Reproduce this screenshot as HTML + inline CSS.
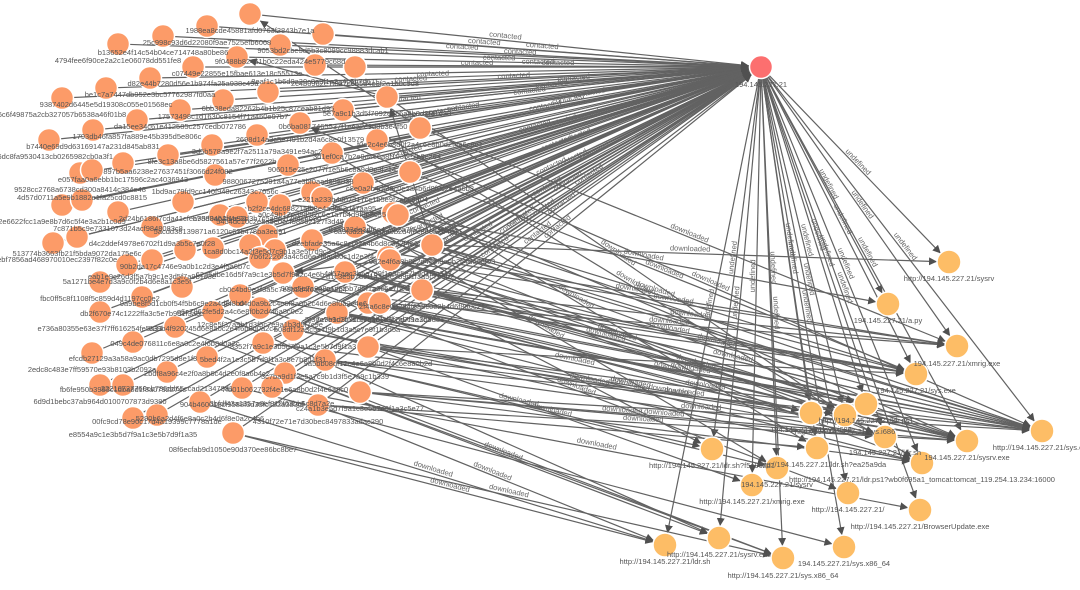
<!DOCTYPE html>
<html><head><meta charset="utf-8"><style>
html,body{margin:0;padding:0;background:#fff;width:1080px;height:590px;overflow:hidden}
svg{display:block;font-family:"Liberation Sans",sans-serif}
</style></head><body>
<svg width="1080" height="590" viewBox="0 0 1080 590" xmlns="http://www.w3.org/2000/svg">
<defs>
<marker id="a" viewBox="0 -5 10 10" refX="25" refY="0" markerWidth="8" markerHeight="8" markerUnits="userSpaceOnUse" orient="auto"><path d="M0,-5L10,0L0,5Z" fill="#505050"/></marker>
</defs>
<rect width="1080" height="590" fill="#fff"/>
<g stroke="#626262" stroke-width="1.2" marker-end="url(#a)">
<line x1="250" y1="14" x2="761" y2="67"/><line x1="207" y1="26" x2="761" y2="67"/><line x1="163" y1="36" x2="761" y2="67"/><line x1="118" y1="44" x2="761" y2="67"/><line x1="323" y1="34" x2="761" y2="67"/><line x1="280" y1="45" x2="761" y2="67"/><line x1="237" y1="57" x2="761" y2="67"/><line x1="193" y1="67" x2="761" y2="67"/><line x1="150" y1="78" x2="761" y2="67"/><line x1="106" y1="88" x2="761" y2="67"/><line x1="62" y1="98" x2="761" y2="67"/><line x1="315" y1="65" x2="761" y2="67"/><line x1="355" y1="67" x2="761" y2="67"/><line x1="268" y1="92" x2="761" y2="67"/><line x1="223" y1="100" x2="761" y2="67"/><line x1="180" y1="110" x2="761" y2="67"/><line x1="137" y1="120" x2="761" y2="67"/><line x1="93" y1="130" x2="761" y2="67"/><line x1="49" y1="140" x2="761" y2="67"/><line x1="343" y1="110" x2="761" y2="67"/><line x1="300" y1="123" x2="761" y2="67"/><line x1="257" y1="135" x2="761" y2="67"/><line x1="212" y1="145" x2="761" y2="67"/><line x1="168" y1="155" x2="761" y2="67"/><line x1="123" y1="163" x2="761" y2="67"/><line x1="80" y1="173" x2="761" y2="67"/><line x1="377" y1="140" x2="761" y2="67"/><line x1="387" y1="97" x2="761" y2="67"/><line x1="332" y1="153" x2="761" y2="67"/><line x1="288" y1="165" x2="761" y2="67"/><line x1="363" y1="183" x2="761" y2="67"/><line x1="312" y1="192" x2="761" y2="67"/><line x1="215" y1="175" x2="761" y2="67"/><line x1="62" y1="205" x2="761" y2="67"/><line x1="82" y1="200" x2="761" y2="67"/><line x1="118" y1="212" x2="761" y2="67"/><line x1="183" y1="202" x2="761" y2="67"/><line x1="257" y1="202" x2="761" y2="67"/><line x1="280" y1="205" x2="761" y2="67"/><line x1="322" y1="198" x2="761" y2="67"/><line x1="393" y1="213" x2="761" y2="67"/><line x1="152" y1="227" x2="761" y2="67"/><line x1="53" y1="243" x2="761" y2="67"/><line x1="77" y1="237" x2="761" y2="67"/><line x1="220" y1="215" x2="761" y2="67"/><line x1="237" y1="217" x2="761" y2="67"/><line x1="267" y1="235" x2="761" y2="67"/><line x1="312" y1="240" x2="761" y2="67"/><line x1="355" y1="227" x2="761" y2="67"/><line x1="185" y1="250" x2="761" y2="67"/><line x1="152" y1="260" x2="761" y2="67"/><line x1="127" y1="265" x2="761" y2="67"/><line x1="213" y1="248" x2="761" y2="67"/><line x1="260" y1="258" x2="761" y2="67"/><line x1="283" y1="273" x2="761" y2="67"/><line x1="345" y1="272" x2="761" y2="67"/><line x1="388" y1="257" x2="761" y2="67"/><line x1="100" y1="282" x2="761" y2="67"/><line x1="182" y1="287" x2="761" y2="67"/><line x1="240" y1="295" x2="761" y2="67"/><line x1="303" y1="287" x2="761" y2="67"/><line x1="142" y1="297" x2="761" y2="67"/><line x1="100" y1="312" x2="761" y2="67"/><line x1="213" y1="312" x2="761" y2="67"/><line x1="260" y1="308" x2="761" y2="67"/><line x1="337" y1="313" x2="761" y2="67"/><line x1="368" y1="303" x2="761" y2="67"/><line x1="175" y1="327" x2="761" y2="67"/><line x1="293" y1="330" x2="761" y2="67"/><line x1="133" y1="342" x2="761" y2="67"/><line x1="207" y1="357" x2="761" y2="67"/><line x1="263" y1="343" x2="761" y2="67"/><line x1="325" y1="360" x2="761" y2="67"/><line x1="368" y1="347" x2="761" y2="67"/><line x1="92" y1="353" x2="761" y2="67"/><line x1="167" y1="372" x2="761" y2="67"/><line x1="285" y1="373" x2="761" y2="67"/><line x1="100" y1="385" x2="761" y2="67"/><line x1="123" y1="385" x2="761" y2="67"/><line x1="242" y1="388" x2="761" y2="67"/><line x1="272" y1="387" x2="761" y2="67"/><line x1="360" y1="392" x2="761" y2="67"/><line x1="200" y1="402" x2="761" y2="67"/><line x1="318" y1="405" x2="761" y2="67"/><line x1="133" y1="418" x2="761" y2="67"/><line x1="157" y1="415" x2="761" y2="67"/><line x1="233" y1="433" x2="761" y2="67"/><line x1="398" y1="215" x2="761" y2="67"/><line x1="432" y1="245" x2="761" y2="67"/><line x1="422" y1="290" x2="761" y2="67"/><line x1="380" y1="303" x2="761" y2="67"/><line x1="390" y1="260" x2="761" y2="67"/><line x1="420" y1="128" x2="761" y2="67"/><line x1="410" y1="172" x2="761" y2="67"/><line x1="250" y1="245" x2="761" y2="67"/><line x1="275" y1="250" x2="761" y2="67"/>
<!-- internal -->
<line x1="420" y1="128" x2="250" y2="14"/><line x1="387" y1="97" x2="237" y2="57"/><line x1="432" y1="245" x2="387" y2="97"/><line x1="410" y1="172" x2="300" y2="123"/><line x1="398" y1="215" x2="257" y2="202"/><line x1="390" y1="260" x2="283" y2="273"/>
<!-- hub to destinations -->
<line x1="761" y1="67" x2="949" y2="262"/><line x1="761" y1="67" x2="888" y2="304"/><line x1="761" y1="67" x2="957" y2="346"/><line x1="761" y1="67" x2="916" y2="374"/><line x1="761" y1="67" x2="1042" y2="431"/><line x1="761" y1="67" x2="967" y2="441"/><line x1="761" y1="67" x2="811" y2="413"/><line x1="761" y1="67" x2="845" y2="415"/><line x1="761" y1="67" x2="866" y2="404"/><line x1="761" y1="67" x2="885" y2="437"/><line x1="761" y1="67" x2="817" y2="448"/><line x1="761" y1="67" x2="922" y2="463"/><line x1="761" y1="67" x2="777" y2="468"/><line x1="761" y1="67" x2="712" y2="449"/><line x1="761" y1="67" x2="752" y2="485"/><line x1="761" y1="67" x2="848" y2="493"/><line x1="761" y1="67" x2="920" y2="510"/><line x1="761" y1="67" x2="665" y2="545"/><line x1="761" y1="67" x2="719" y2="538"/><line x1="761" y1="67" x2="783" y2="558"/><line x1="761" y1="67" x2="844" y2="547"/>
<!-- sources to destinations -->
<line x1="432" y1="245" x2="949" y2="262"/><line x1="422" y1="290" x2="916" y2="374"/><line x1="422" y1="290" x2="1042" y2="431"/><line x1="380" y1="303" x2="967" y2="441"/><line x1="368" y1="347" x2="1042" y2="431"/><line x1="360" y1="392" x2="1042" y2="431"/><line x1="360" y1="392" x2="885" y2="437"/><line x1="390" y1="260" x2="957" y2="346"/><line x1="388" y1="257" x2="845" y2="415"/><line x1="345" y1="272" x2="866" y2="404"/><line x1="337" y1="313" x2="811" y2="413"/><line x1="337" y1="313" x2="922" y2="463"/><line x1="325" y1="360" x2="712" y2="449"/><line x1="325" y1="360" x2="777" y2="468"/><line x1="318" y1="405" x2="665" y2="545"/><line x1="285" y1="373" x2="719" y2="538"/><line x1="285" y1="373" x2="783" y2="558"/><line x1="233" y1="433" x2="665" y2="545"/><line x1="200" y1="402" x2="665" y2="545"/><line x1="233" y1="433" x2="783" y2="558"/><line x1="242" y1="388" x2="844" y2="547"/><line x1="272" y1="387" x2="920" y2="510"/><line x1="303" y1="287" x2="848" y2="493"/><line x1="293" y1="330" x2="885" y2="437"/><line x1="420" y1="128" x2="957" y2="346"/><line x1="410" y1="172" x2="916" y2="374"/><line x1="377" y1="140" x2="1042" y2="431"/><line x1="363" y1="183" x2="967" y2="441"/><line x1="332" y1="153" x2="817" y2="448"/><line x1="343" y1="110" x2="922" y2="463"/><line x1="387" y1="97" x2="845" y2="415"/><line x1="312" y1="192" x2="777" y2="468"/><line x1="312" y1="240" x2="712" y2="449"/><line x1="355" y1="227" x2="885" y2="437"/><line x1="260" y1="308" x2="752" y2="485"/><line x1="213" y1="312" x2="719" y2="538"/><line x1="175" y1="327" x2="783" y2="558"/><line x1="398" y1="215" x2="888" y2="304"/><line x1="368" y1="303" x2="811" y2="413"/><line x1="422" y1="290" x2="866" y2="404"/><line x1="432" y1="245" x2="967" y2="441"/><line x1="390" y1="260" x2="1042" y2="431"/><line x1="380" y1="303" x2="1042" y2="431"/><line x1="393" y1="213" x2="916" y2="374"/><line x1="345" y1="272" x2="1042" y2="431"/><line x1="368" y1="347" x2="916" y2="374"/>
<line x1="432" y1="245" x2="1042" y2="431"/><line x1="432" y1="245" x2="916" y2="374"/><line x1="422" y1="290" x2="967" y2="441"/><line x1="422" y1="290" x2="957" y2="346"/><line x1="390" y1="260" x2="967" y2="441"/><line x1="388" y1="257" x2="922" y2="463"/><line x1="380" y1="303" x2="957" y2="346"/><line x1="380" y1="303" x2="885" y2="437"/><line x1="368" y1="303" x2="1042" y2="431"/><line x1="368" y1="303" x2="967" y2="441"/><line x1="368" y1="347" x2="967" y2="441"/><line x1="368" y1="347" x2="922" y2="463"/><line x1="360" y1="392" x2="967" y2="441"/><line x1="360" y1="392" x2="922" y2="463"/><line x1="345" y1="272" x2="967" y2="441"/><line x1="345" y1="272" x2="916" y2="374"/><line x1="337" y1="313" x2="1042" y2="431"/><line x1="337" y1="313" x2="866" y2="404"/><line x1="325" y1="360" x2="1042" y2="431"/><line x1="325" y1="360" x2="885" y2="437"/><line x1="318" y1="405" x2="967" y2="441"/><line x1="318" y1="405" x2="817" y2="448"/><line x1="303" y1="287" x2="916" y2="374"/><line x1="293" y1="330" x2="967" y2="441"/><line x1="263" y1="343" x2="845" y2="415"/><line x1="312" y1="240" x2="957" y2="346"/><line x1="355" y1="227" x2="1042" y2="431"/><line x1="398" y1="215" x2="1042" y2="431"/><line x1="283" y1="273" x2="916" y2="374"/><line x1="240" y1="295" x2="866" y2="404"/>
</g>
<!-- edge labels -->
<g font-size="7.5" fill="#666" text-anchor="middle">
<text transform="translate(505,40) rotate(5.9)" dy="-2">contacted</text><text transform="translate(484,46) rotate(4.2)" dy="-2">contacted</text><text transform="translate(542,50) rotate(4.3)" dy="-2">contacted</text><text transform="translate(520,56) rotate(2.6)" dy="-2">contacted</text><text transform="translate(462,51) rotate(3)" dy="-2">contacted</text><text transform="translate(499,62) rotate(1.1)" dy="-2">contacted</text><text transform="translate(538,66) rotate(0.3)" dy="-2">contacted</text><text transform="translate(558,67)" dy="-2">contacted</text><text transform="translate(477,67)" dy="-2">contacted</text><text transform="translate(514,80) rotate(-2.9)" dy="-2">contacted</text><text transform="translate(552,88) rotate(-5.9)" dy="-2">contacted</text><text transform="translate(530,95) rotate(-6.9)" dy="-2">contacted</text><text transform="translate(574,82) rotate(-4.6)" dy="-2">contacted</text><text transform="translate(590,97) rotate(-10.1)" dy="-2">contacted</text><text transform="translate(569,103) rotate(-10.8)" dy="-2">contacted</text><text transform="translate(546,110) rotate(-11.3)" dy="-2">contacted</text><text transform="translate(585,120) rotate(-16.7)" dy="-2">contacted</text><text transform="translate(562,125) rotate(-16.2)" dy="-2">contacted</text><text transform="translate(536,130) rotate(-15.6)" dy="-2">contacted</text><text transform="translate(577,140) rotate(-21.6)" dy="-2">contacted</text><text transform="translate(596,156) rotate(-28.4)" dy="-2">contacted</text><text transform="translate(558,147) rotate(-21.5)" dy="-2">contacted</text><text transform="translate(574,162) rotate(-27)" dy="-2">contacted</text><text transform="translate(591,178) rotate(-33.3)" dy="-2">contacted</text><text transform="translate(553,170) rotate(-26.2)" dy="-2">contacted</text><text transform="translate(570,185) rotate(-31.8)" dy="-2">contacted</text><text transform="translate(564,207) rotate(-35.5)" dy="-2">contacted</text><text transform="translate(549,190) rotate(-30.1)" dy="-2">contacted</text><text transform="translate(560,230) rotate(-39)" dy="-2">contacted</text><text transform="translate(543,213) rotate(-33.9)" dy="-2">contacted</text><text transform="translate(540,236) rotate(-37.3)" dy="-2">contacted</text><text transform="translate(523,220) rotate(-32.7)" dy="-2">contacted</text><text transform="translate(497,250) rotate(-34.7)" dy="-2">contacted</text><text transform="translate(480,235) rotate(-30.8)" dy="-2">contacted</text><text transform="translate(516,227) rotate(-33.2)" dy="-2">contacted</text><text transform="translate(447,243) rotate(-29.2)" dy="-2">contacted</text><text transform="translate(430,226) rotate(-25.7)" dy="-2">contacted</text><text transform="translate(426,210) rotate(-23.1)" dy="-2">contacted</text><text transform="translate(407,155) rotate(-14)" dy="-2">contacted</text><text transform="translate(411,83) rotate(-2.5)" dy="-2">contacted</text><text transform="translate(405,103) rotate(-5.9)" dy="-2">contacted</text><text transform="translate(433,78) rotate(-1.8)" dy="-2">contacted</text><text transform="translate(420,120) rotate(-8.8)" dy="-2">contacted</text><text transform="translate(442,115) rotate(-8.6)" dy="-2">contacted</text><text transform="translate(464,111) rotate(-8.4)" dy="-2">contacted</text>
<text transform="translate(855,165) rotate(46)" dy="-2">undefined</text><text transform="translate(825,186) rotate(61.8)" dy="-2">undefined</text><text transform="translate(859,207) rotate(54.9)" dy="-2">undefined</text><text transform="translate(839,221) rotate(63.2)" dy="-2">undefined</text><text transform="translate(902,249) rotate(52.3)" dy="-2">undefined</text><text transform="translate(864,254) rotate(61.2)" dy="-2">undefined</text><text transform="translate(786,240) rotate(81.8)" dy="-2">undefined</text><text transform="translate(803,241) rotate(76.4)" dy="-2">undefined</text><text transform="translate(814,236) rotate(72.7)" dy="-2">undefined</text><text transform="translate(823,252) rotate(71.5)" dy="-2">undefined</text><text transform="translate(789,258) rotate(81.6)" dy="-2">undefined</text><text transform="translate(842,265) rotate(67.9)" dy="-2">undefined</text><text transform="translate(769,268) rotate(87.7)" dy="-2">undefined</text><text transform="translate(737,258) rotate(-83)" dy="-2">undefined</text><text transform="translate(757,276) rotate(-89)" dy="-2">undefined</text><text transform="translate(805,280) rotate(78.5)" dy="-2">undefined</text><text transform="translate(841,289) rotate(70.3)" dy="-2">undefined</text><text transform="translate(713,306) rotate(-78.6)" dy="-2">undefined</text><text transform="translate(740,303) rotate(-85)" dy="-2">undefined</text><text transform="translate(772,313) rotate(87.4)" dy="-2">undefined</text><text transform="translate(803,307) rotate(80.2)" dy="-2">undefined</text>
<text transform="translate(690,253) rotate(1.9)" dy="-2">downloaded</text><text transform="translate(669,332) rotate(9.6)" dy="-2">downloaded</text><text transform="translate(732,360) rotate(12.8)" dy="-2">downloaded</text><text transform="translate(673,372) rotate(13.2)" dy="-2">downloaded</text><text transform="translate(705,389) rotate(7.1)" dy="-2">downloaded</text><text transform="translate(701,411) rotate(3.3)" dy="-2">downloaded</text><text transform="translate(622,414) rotate(4.9)" dy="-2">downloaded</text><text transform="translate(673,303) rotate(8.6)" dy="-2">downloaded</text><text transform="translate(616,336) rotate(19.1)" dy="-2">downloaded</text><text transform="translate(605,338) rotate(14.2)" dy="-2">downloaded</text><text transform="translate(574,363) rotate(11.9)" dy="-2">downloaded</text><text transform="translate(629,388) rotate(14.4)" dy="-2">downloaded</text><text transform="translate(518,404) rotate(13)" dy="-2">downloaded</text><text transform="translate(551,414) rotate(13.4)" dy="-2">downloaded</text><text transform="translate(491,475) rotate(22)" dy="-2">downloaded</text><text transform="translate(502,455) rotate(20.8)" dy="-2">downloaded</text><text transform="translate(449,489) rotate(14.5)" dy="-2">downloaded</text><text transform="translate(432,473) rotate(17.1)" dy="-2">downloaded</text><text transform="translate(508,495) rotate(12.8)" dy="-2">downloaded</text><text transform="translate(596,448) rotate(10.7)" dy="-2">downloaded</text><text transform="translate(575,390) rotate(20.7)" dy="-2">downloaded</text><text transform="translate(589,383) rotate(10.2)" dy="-2">downloaded</text><text transform="translate(688,237) rotate(22.1)" dy="-2">downloaded</text><text transform="translate(663,273) rotate(21.8)" dy="-2">downloaded</text><text transform="translate(709,285) rotate(23.6)" dy="-2">downloaded</text><text transform="translate(574,300) rotate(31.3)" dy="-2">downloaded</text><text transform="translate(632,286) rotate(31.4)" dy="-2">downloaded</text><text transform="translate(616,256) rotate(34.8)" dy="-2">downloaded</text><text transform="translate(544,330) rotate(30.7)" dy="-2">downloaded</text><text transform="translate(643,259) rotate(10.3)" dy="-2">downloaded</text><text transform="translate(716,345) rotate(14.7)" dy="-2">downloaded</text><text transform="translate(654,293) rotate(17.1)" dy="-2">downloaded</text>
<text transform="translate(695,366) rotate(15.5)" dy="-2">downloaded</text><text transform="translate(690,318) rotate(6)" dy="-2">downloaded</text><text transform="translate(669,325) rotate(4.3)" dy="-2">downloaded</text><text transform="translate(668,394) rotate(8.9)" dy="-2">downloaded</text><text transform="translate(664,417) rotate(4.6)" dy="-2">downloaded</text><text transform="translate(690,372) rotate(9.5)" dy="-2">downloaded</text><text transform="translate(684,396) rotate(5.7)" dy="-2">downloaded</text><text transform="translate(643,423) rotate(3.2)" dy="-2">downloaded</text><text transform="translate(630,386) rotate(10.6)" dy="-2">downloaded</text><text transform="translate(635,293) rotate(9.4)" dy="-2">downloaded</text>
</g>
<!-- source nodes -->
<g fill="#FC9B68" stroke="#fff" stroke-width="1.5">
<circle cx="250" cy="14" r="11.5"/><circle cx="207" cy="26" r="11.5"/><circle cx="163" cy="36" r="11.5"/><circle cx="118" cy="44" r="11.5"/><circle cx="323" cy="34" r="11.5"/><circle cx="280" cy="45" r="11.5"/><circle cx="237" cy="57" r="11.5"/><circle cx="193" cy="67" r="11.5"/><circle cx="150" cy="78" r="11.5"/><circle cx="106" cy="88" r="11.5"/><circle cx="62" cy="98" r="11.5"/><circle cx="315" cy="65" r="11.5"/><circle cx="355" cy="67" r="11.5"/><circle cx="268" cy="92" r="11.5"/><circle cx="223" cy="100" r="11.5"/><circle cx="180" cy="110" r="11.5"/><circle cx="137" cy="120" r="11.5"/><circle cx="93" cy="130" r="11.5"/><circle cx="49" cy="140" r="11.5"/><circle cx="343" cy="110" r="11.5"/><circle cx="300" cy="123" r="11.5"/><circle cx="257" cy="135" r="11.5"/><circle cx="212" cy="145" r="11.5"/><circle cx="168" cy="155" r="11.5"/><circle cx="123" cy="163" r="11.5"/><circle cx="80" cy="173" r="11.5"/><circle cx="92" cy="170" r="11.5"/><circle cx="377" cy="140" r="11.5"/><circle cx="387" cy="97" r="11.5"/><circle cx="332" cy="153" r="11.5"/><circle cx="288" cy="165" r="11.5"/><circle cx="363" cy="183" r="11.5"/><circle cx="312" cy="192" r="11.5"/><circle cx="215" cy="175" r="11.5"/><circle cx="62" cy="205" r="11.5"/><circle cx="82" cy="200" r="11.5"/><circle cx="118" cy="212" r="11.5"/><circle cx="183" cy="202" r="11.5"/><circle cx="257" cy="202" r="11.5"/><circle cx="280" cy="205" r="11.5"/><circle cx="322" cy="198" r="11.5"/><circle cx="393" cy="213" r="11.5"/><circle cx="152" cy="227" r="11.5"/><circle cx="53" cy="243" r="11.5"/><circle cx="77" cy="237" r="11.5"/><circle cx="220" cy="215" r="11.5"/><circle cx="237" cy="217" r="11.5"/><circle cx="267" cy="235" r="11.5"/><circle cx="312" cy="240" r="11.5"/><circle cx="355" cy="227" r="11.5"/><circle cx="185" cy="250" r="11.5"/><circle cx="152" cy="260" r="11.5"/><circle cx="127" cy="265" r="11.5"/><circle cx="213" cy="248" r="11.5"/><circle cx="250" cy="245" r="11.5"/><circle cx="275" cy="250" r="11.5"/><circle cx="260" cy="258" r="11.5"/><circle cx="283" cy="273" r="11.5"/><circle cx="345" cy="272" r="11.5"/><circle cx="388" cy="257" r="11.5"/><circle cx="100" cy="282" r="11.5"/><circle cx="182" cy="287" r="11.5"/><circle cx="240" cy="295" r="11.5"/><circle cx="303" cy="287" r="11.5"/><circle cx="142" cy="297" r="11.5"/><circle cx="100" cy="312" r="11.5"/><circle cx="213" cy="312" r="11.5"/><circle cx="260" cy="308" r="11.5"/><circle cx="337" cy="313" r="11.5"/><circle cx="368" cy="303" r="11.5"/><circle cx="175" cy="327" r="11.5"/><circle cx="293" cy="330" r="11.5"/><circle cx="133" cy="342" r="11.5"/><circle cx="207" cy="357" r="11.5"/><circle cx="263" cy="343" r="11.5"/><circle cx="325" cy="360" r="11.5"/><circle cx="368" cy="347" r="11.5"/><circle cx="92" cy="353" r="11.5"/><circle cx="167" cy="372" r="11.5"/><circle cx="285" cy="373" r="11.5"/><circle cx="100" cy="385" r="11.5"/><circle cx="123" cy="385" r="11.5"/><circle cx="242" cy="388" r="11.5"/><circle cx="272" cy="387" r="11.5"/><circle cx="360" cy="392" r="11.5"/><circle cx="200" cy="402" r="11.5"/><circle cx="318" cy="405" r="11.5"/><circle cx="133" cy="418" r="11.5"/><circle cx="157" cy="415" r="11.5"/><circle cx="233" cy="433" r="11.5"/><circle cx="398" cy="215" r="11.5"/><circle cx="432" cy="245" r="11.5"/><circle cx="422" cy="290" r="11.5"/><circle cx="380" cy="303" r="11.5"/><circle cx="390" cy="260" r="11.5"/><circle cx="420" cy="128" r="11.5"/><circle cx="410" cy="172" r="11.5"/>
</g>
<!-- destination nodes -->
<g fill="#FDBD66" stroke="#fff" stroke-width="1.5">
<circle cx="949" cy="262" r="12"/><circle cx="888" cy="304" r="12"/><circle cx="957" cy="346" r="12"/><circle cx="916" cy="374" r="12"/><circle cx="1042" cy="431" r="12"/><circle cx="967" cy="441" r="12"/><circle cx="811" cy="413" r="12"/><circle cx="845" cy="415" r="12"/><circle cx="866" cy="404" r="12"/><circle cx="885" cy="437" r="12"/><circle cx="817" cy="448" r="12"/><circle cx="922" cy="463" r="12"/><circle cx="777" cy="468" r="12"/><circle cx="712" cy="449" r="12"/><circle cx="752" cy="485" r="12"/><circle cx="848" cy="493" r="12"/><circle cx="920" cy="510" r="12"/><circle cx="665" cy="545" r="12"/><circle cx="719" cy="538" r="12"/><circle cx="783" cy="558" r="12"/><circle cx="844" cy="547" r="12"/>
</g>
<circle cx="761" cy="67" r="11.5" fill="#FC6F6F" stroke="#fff" stroke-width="1.5"/>
<!-- node labels -->
<g font-size="7.5" fill="#555" text-anchor="middle">
<text x="761" y="87">194.145.227.21</text>
<text x="250" y="33">1988ea8cde45881afd0763f3843b7e1a</text><text x="207" y="45">25c998c93d6d22080f9ae7525efb6068</text><text x="163" y="55">b13652e4f14c54b04ce714748a80be86</text><text x="118" y="63">4794fee6f90ce2a2c1e06078dd551fe8</text><text x="323" y="53">9053bd2cbe5d5b3c8099cc98883dcab1</text><text x="280" y="64">9f0488b82461b0c22eda424e5779c68d</text><text x="237" y="76">c07449e22855e15fbae613e18c55513e</text><text x="193" y="86">d82e44b7280d56e1b974fa25a938c49a</text><text x="150" y="97">be1c7a7447db952e3bc57762987fd0aa</text><text x="106" y="107">9387402d6445e5d19308c055e01568ec</text><text x="62" y="117">6c6f49875a2cb327057b6538a46f01b8</text><text x="315" y="84">8eaf1c1b6d0a30c8e9f1e2a4c5b7d611</text><text x="355" y="86">2c4b09d2e1f8a7c6b5d4e3f2a1b0c9d8</text><text x="268" y="111">6bb38eda82262b4b1b25c87ceab81d95</text><text x="223" y="119">17573498c1d1630c8154f71a460e97b7</text><text x="180" y="129">da15ee34c61e412585c257cedb072786</text><text x="137" y="139">1793db46fa857fa889e45b395d5e806c</text><text x="93" y="149">b7440e69d9d63169147a231d845ab831</text><text x="49" y="159">72d6dc8fa9530413cb0265982cb0a3f1</text><text x="343" y="129">0b6ba0817465537f1e6a2c9d8b3e4f50</text><text x="300" y="142">2698d14a3c5e7f91b2d4a6c8e0f13579</text><text x="257" y="154">3d5b578a9e2f7a2511a79a3491e94ac2</text><text x="212" y="164">8fe3c13a8be6d5827561a57e77f2622b</text><text x="168" y="174">897b5aa6238e27637451f3066d24f082</text><text x="123" y="182">e057faa0a6ebb1bc17596c2ac4036943</text><text x="80" y="192">9528cc2768a6738cd300a8414c384e48</text><text x="377" y="159">3d1ef0ca7b2e9d4c6a8f1035e7b9c2d4</text><text x="387" y="116">5e7a9c1b3d5f7092e4c6a8b0d2f41638</text><text x="332" y="172">906015e25c2077f1e5b6c8a9d0e3f214</text><text x="288" y="184">9880067275291a4a77c3bf0aad898838</text><text x="363" y="202">e221a233b4d07317cc1b5e9f2a6c8d04</text><text x="312" y="211">b2f2ce4dc688215fb8e4a3953d47aa95</text><text x="215" y="194">1bd9ac79fd9cc140f948c26343c7056c</text><text x="62" y="224">2e6622fcc1a9e8b7d6c5f4e3a2b1c0d9</text><text x="82" y="200">4d57d0711a5e9b1882e1fa25cd0c8815</text><text x="118" y="231">7c871b5c9e7331073d24acf9848083c8</text><text x="183" y="221">2d24b6186f7cda41cfea95d0ab2a4e21</text><text x="257" y="221">b7883464f1e93d3b7c5a9e1f2d4c6b80</text><text x="280" y="224">5454dc10c2e8a5e0ccf58862127f3d49</text><text x="322" y="217">a0c49b17e38d5f2c6e1a7b4d9f0e8c35</text><text x="393" y="232">81a823de3df6e4c9b2a7f5d0e1c38b6a</text><text x="152" y="246">d4c2ddef4978e6702f1d9a3b5c7e0f28</text><text x="53" y="262">b5ebf7856ad468970010ec2397f82c0e</text><text x="77" y="256">513774b3663fb21f5bda9072da175e6c</text><text x="220" y="234">5acdd38139871a6120c63b478ba3ed91</text><text x="267" y="254">1ca8d0bc14a2f3e5d7c9b1a3e5f7d9c2</text><text x="312" y="259">7b6f2226f3a4c5d6e7f8a9b0c1d2e3f4</text><text x="355" y="246">d2ebfade35a6c8e0f2a4b6d8c0e2f4a6</text><text x="185" y="269">90b2da17c4746e9a0b1c2d3e4f5a6b7c</text><text x="152" y="279">eab1e9c26d3f5a7b9c1e3d5f7a9b1c3e</text><text x="127" y="284">5a1271be4e7d3a9c0f2b4d6e8a1c3e5f</text><text x="260" y="277">62a6dbe16d5f7a9c1e3b5d7f9a2c4e6b</text><text x="283" y="292">cb0c4bd9e1f3a5c7e9b2d4f6a8c0e2b4</text><text x="345" y="291">30ba5e7a9e8c1d3f5b7d9f1a3c5e7b9d</text><text x="388" y="276">4d57aec3b5e7d9f1a3c5e7b9d1f3a5c7</text><text x="100" y="301">fbc0ff5c8f1108f5c859d4d1197cc0e2</text><text x="182" y="306">9a9be8f5d1cb0f54f5b6c9e2a4d6f8b0</text><text x="240" y="314">e6e7862fe5d2a4c6e8f0b2d4f6a8c0e2</text><text x="303" y="306">d4d0a9b2c4e6f8a0b2c4d6e8f0a2c4e6</text><text x="142" y="316">db2f670e74c1222ffa3c5e7b9d1f3a5c</text><text x="100" y="331">e736a80355e63e37f7ff616254fe5a33</text><text x="213" y="331">839b4f920245d6e8a0c2e4f6b8d0a2c4</text><text x="260" y="327">12c8e5f37a9b1d3f5c7e9a1b3d5f7c9e</text><text x="337" y="332">b08df12a3c5e7f9b1d3a5c7e9f1b3d5a</text><text x="368" y="322">5f3da7e9c1b3d5f7a9c1e3b5d7f9a1c3</text><text x="175" y="346">049c4de076811c6e8a0c2e4f6b8d0a2c</text><text x="293" y="349">8352f7a9c1e3b5d7f9a1c3e5b7d9f1a3</text><text x="133" y="361">efcdb27129a3a58a9ac0db7295d8e1f3</text><text x="207" y="376">2bdf8a96c4e2f0a8b6c4d2e0f8a6b4c2</text><text x="263" y="362">5bed4f2a1e3c5b7d9f1a3c5e7b9d1f31</text><text x="325" y="379">3c7ba9d1f3e5a7c9b1d3f5e7a9c1b339</text><text x="368" y="366">9a5bb08df12c4e6a8b0d2f4c6e8a0b2d</text><text x="92" y="372">2edc8c483e7ff59570e93b8103b2092a</text><text x="167" y="391">22216727760cb786dd65ccad213478a1</text><text x="285" y="392">7fb01b062732f4e1c6a8b0d2f4e6a8c0</text><text x="100" y="404">6d9d1bebc37ab964d0100707873d9380</text><text x="123" y="392">fb6fe950b3993c1dba8d1f8a0792274c</text><text x="242" y="407">904b460018cf9588f3d35fc122a383df</text><text x="272" y="406">3bfdf43a1357a8ef810f63bb5c8d7a2e</text><text x="360" y="411">c24a1b3e5d7f9a1c3e5b7d9f1a3c5e77</text><text x="200" y="421">5290b6a2d4f6e8a0c2b4d6f8e0a2c4b6</text><text x="318" y="424">4310f72e71e7d30bec8497833adac290</text><text x="133" y="437">e8554a9c1e3b5d7f9a1c3e5b7d9f1a35</text><text x="157" y="424">00fc9cd78e90c17d4a19399c7778a1de</text><text x="233" y="452">08f6ecfab9d1050e90d370ee86bc8be7</text><text x="398" y="234">6a9f0d2b4c6e8a0b2d4f6c8e0a2b4d61</text><text x="432" y="264">0d2e4f6a8b0c2d4e6f8a0b2c4d6e8f03</text><text x="422" y="309">2f4a6c8e0b2d4f6a8c0e2b4d6f8a0c21</text><text x="380" y="322">7e9b1d3f5a7c9e1b3d5f7a9c1e3b5d84</text><text x="390" y="279">a1c3e5b7d9f1a3c5e7b9d1f3a5c7e9b2</text><text x="420" y="147">f0a2c4e6b8d0f2a4c6e8b0d2f4a6c8e1</text><text x="410" y="191">c8e0a2b4d6f8c0e2a4b6d8f0c2e4a6b3</text>
<text x="949" y="281">http://194.145.227.21/sysrv</text><text x="888" y="323">194.145.227.21/a.py</text><text x="957" y="366">194.145.227.21/xmrig.exe</text><text x="916" y="393">194.145.227.21/sys.exe</text><text x="1042" y="450">http://194.145.227.21/sys.exe</text><text x="967" y="460">194.145.227.21/sysrv.exe</text><text x="811" y="432">194.145.227.21/sys.i686</text><text x="845" y="434">http://194.145.227.21/sys.i686</text><text x="866" y="423">http://194.145.227.21/ldr.ps1</text><text x="885" y="455">194.145.227.21/ldr.sh</text><text x="822" y="467">http://194.145.227.21/ldr.sh?ea25a9da</text><text x="922" y="482">http://194.145.227.21/ldr.ps1?wb0f695a1_tomcat:tomcat_119.254.13.234:16000</text><text x="777" y="487">194.145.227.21/sysrv</text><text x="712" y="468">http://194.145.227.21/ldr.sh?f5a9c2d1</text><text x="752" y="504">http://194.145.227.21/xmrig.exe</text><text x="848" y="512">http://194.145.227.21/</text><text x="920" y="529">http://194.145.227.21/BrowserUpdate.exe</text><text x="665" y="564">http://194.145.227.21/ldr.sh</text><text x="719" y="557">http://194.145.227.21/sysrv.exe</text><text x="783" y="578">http://194.145.227.21/sys.x86_64</text><text x="844" y="566">194.145.227.21/sys.x86_64</text>
</g>
</svg>
</body></html>
